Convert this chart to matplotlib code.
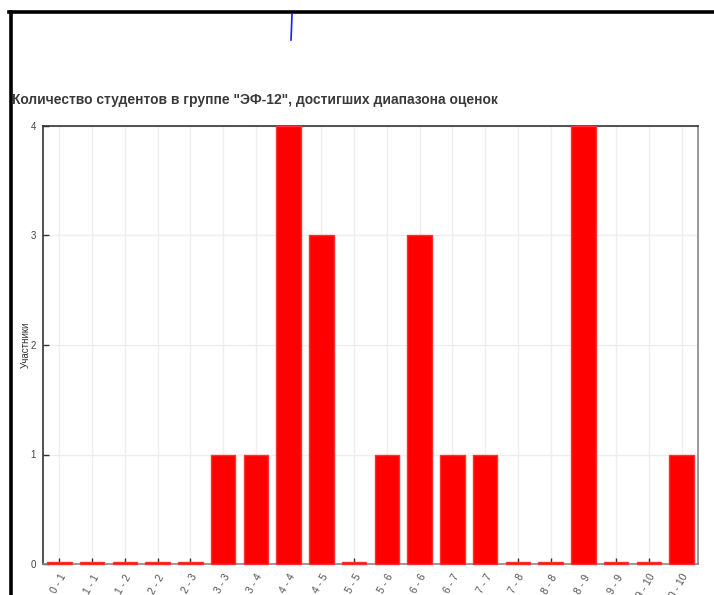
import matplotlib
matplotlib.use("Agg")
import matplotlib.pyplot as plt
from matplotlib.lines import Line2D
import numpy as np

categories = ["0 - 1", "1 - 1", "1 - 2", "2 - 2", "2 - 3", "3 - 3", "3 - 4", "4 - 4",
              "4 - 5", "5 - 5", "5 - 6", "6 - 6", "6 - 7", "7 - 7", "7 - 8", "8 - 8",
              "8 - 9", "9 - 9", "9 - 10", "10 - 10"]
counts = [0, 0, 0, 0, 0, 1, 1, 4, 3, 0, 1, 3, 1, 1, 0, 0, 4, 0, 0, 1]
y_ticks = [0, 1, 2, 3, 4]
title = 'Количество студентов в группе "ЭФ-12", достигших диапазона оценок'
y_label = "Участники"

plt.rcParams['font.family'] = ['Liberation Sans', 'DejaVu Sans']

W, H = 714, 595
fig = plt.figure(figsize=(W / 100, H / 100), dpi=100)
L, R, T, B = 43, 698, 126, 564
ax = fig.add_axes([L / W, 1 - B / H, (R - L) / W, (B - T) / H])

x = np.arange(len(categories))
ymax = 4
# zero-valued bars are shown with a minimal visible height (about 2 px), as in the source
min_h = ymax / (B - T) * 2.2
shown = [c if c > 0 else min_h for c in counts]
ax.bar(x, shown, width=0.75, color='#ff0000', edgecolor='#ff3030', linewidth=1.0,
       zorder=3, clip_on=False)

ax.set_xlim(-0.5, len(categories) - 0.5)
ax.set_ylim(0, ymax)
ax.set_yticks(y_ticks)
ax.set_xticks(x)
ax.set_xticklabels(categories, rotation=60, ha='right', rotation_mode='anchor',
                   fontsize=7.5, color='#555555')
ax.tick_params(axis='x', direction='in', length=4, width=1, color='#333333', pad=6)
ax.tick_params(axis='y', direction='in', length=4, width=1, color='#333333',
               labelsize=7, labelcolor='#444444', pad=5)
ax.grid(True, color='#eeeeee', linewidth=1, zorder=0)
ax.set_axisbelow(True)

for side in ['left', 'top']:
    ax.spines[side].set_color('#333333')
for side in ['right', 'bottom']:
    ax.spines[side].set_color('#888888')
for s in ax.spines.values():
    s.set_linewidth(1.2)

ax.set_ylabel(y_label, fontsize=7, color='#333333')
ax.yaxis.set_label_coords((31 - L) / (R - L), 0.5)

fig.text(12 / W, 1 - 100 / H, title, fontsize=10, fontweight='bold', color='#3a3a3a',
         ha='left', va='center')

# screenshot frame and marks
fig.add_artist(Line2D([10.5 / W, 10.5 / W], [0, 1 - 12 / H], color='black', linewidth=2.6,
                      transform=fig.transFigure))
fig.add_artist(Line2D([9 / W, 1], [1 - 12 / H, 1 - 12 / H], color='black', linewidth=2.6,
                      transform=fig.transFigure))
fig.add_artist(Line2D([292 / W, 291.5 / W, 291 / W], [1 - 14 / H, 1 - 28 / H, 1 - 40 / H],
                      color='#1a1aff', linewidth=1.2, transform=fig.transFigure))

fig.savefig("out.png", dpi=100)
